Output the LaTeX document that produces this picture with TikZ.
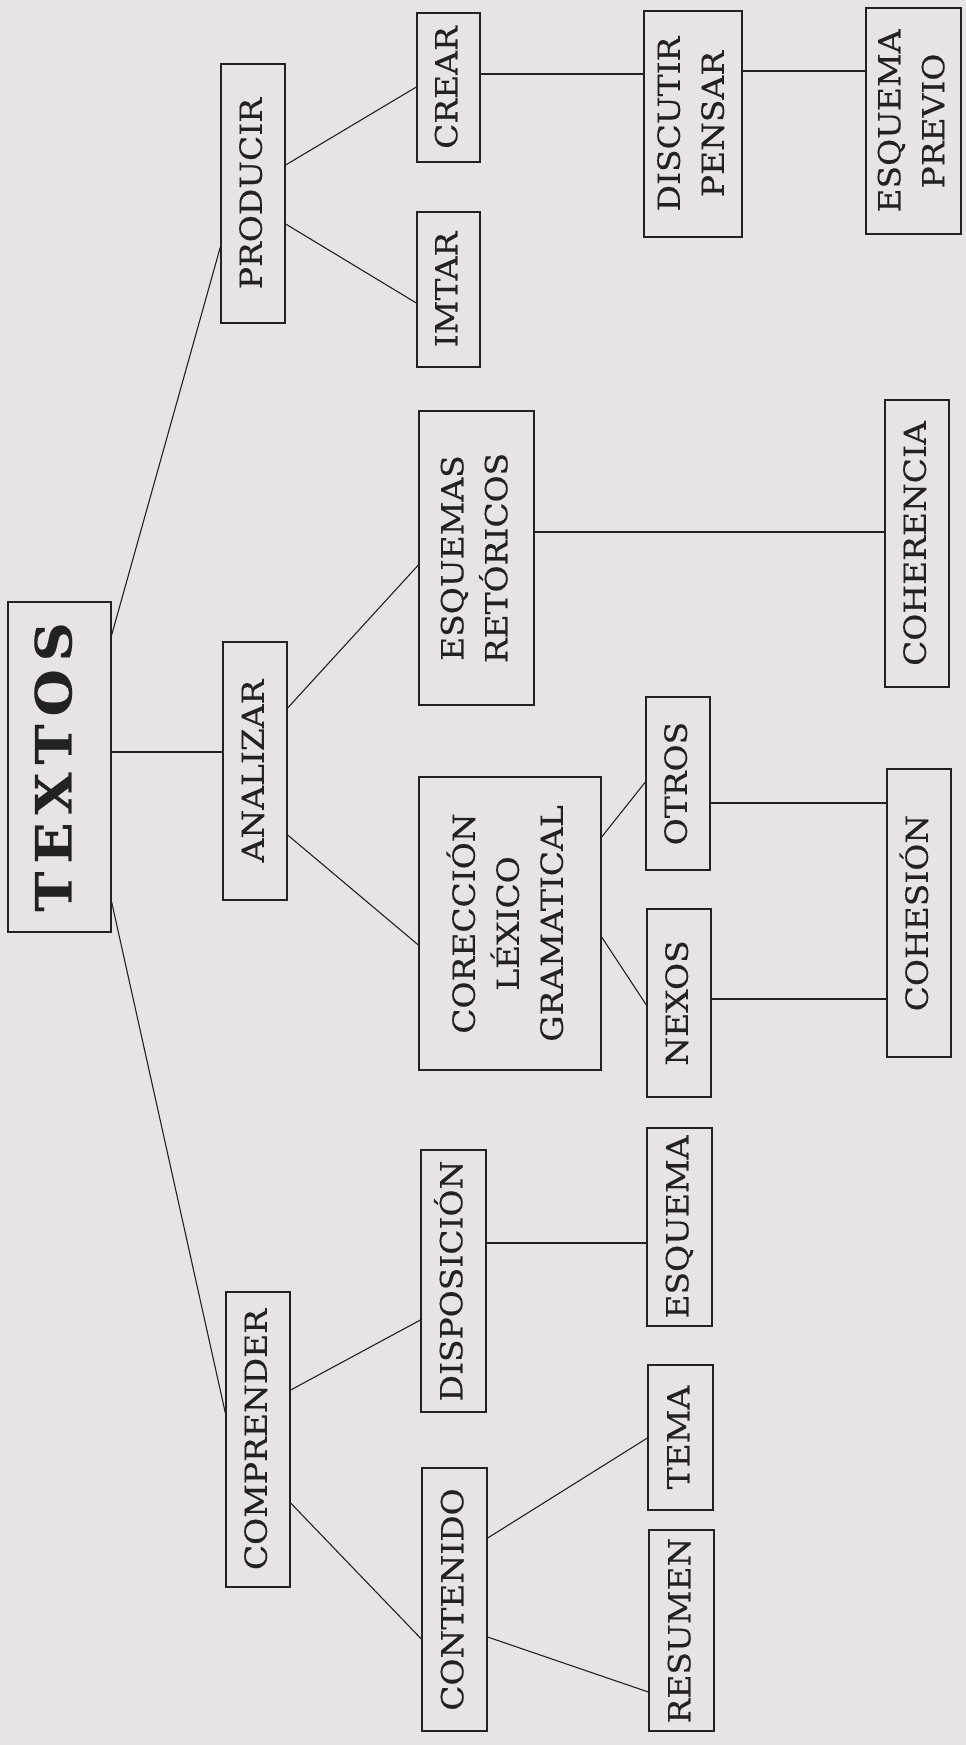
\documentclass[tikz,border=0pt]{standalone}
\usepackage{fontspec}
\setmainfont{DejaVu Serif}[FakeBold=0.4, FakeStretch=1.08]
\definecolor{paper}{HTML}{E8E4E6}
\definecolor{ink}{HTML}{222222}
\tikzset{
  box/.style={draw=ink, line width=1.3pt, text=ink, inner sep=0pt,
    font=\fontsize{30.5}{44}\selectfont},
  link/.style={draw=ink, line width=1.1pt},
}
\newcommand{\vtext}[1]{\rotatebox{90}{\begin{tabular}{@{}c@{}}#1\end{tabular}}}

\begin{document}
\begin{tikzpicture}[x=1pt, y=-1pt]
  \fill[paper] (0,0) rectangle (966,1745);
  \useasboundingbox (0,0) rectangle (966,1745);

  \node[box, minimum width=103pt, minimum height=330pt] (textos) at (59.5,767)
    {\vtext{\bfseries\fontsize{50}{54}\selectfont T\kern8pt E\kern8pt X\kern8pt T\kern8pt O\kern8pt S}};

  % producir
  \node[box, minimum width=64pt, minimum height=259pt] (prod) at (253,193.5) {\vtext{PRODUCIR}};
  \node[box, minimum width=63pt, minimum height=149pt] (crear) at (448.5,87.5) {\vtext{CREAR}};
  \node[box, minimum width=63pt, minimum height=155pt] (imtar) at (448.5,289.5) {\vtext{IMTAR}};
  \node[box, minimum width=98pt, minimum height=226pt] (discutir) at (693,124) {\vtext{DISCUTIR\\PENSAR}};
  \node[box, minimum width=95pt, minimum height=226pt] (previo) at (913.5,121) {\vtext{ESQUEMA\\PREVIO}};

  % analizar
  \node[box, minimum width=64pt, minimum height=258pt] (anal) at (255,771) {\vtext{ANALIZAR}};
  \node[box, minimum width=115pt, minimum height=294pt] (retor) at (476.5,558) {\vtext{ESQUEMAS\\RETÓRICOS}};
  \node[box, minimum width=64pt, minimum height=287pt] (coher) at (917,543.5) {\vtext{COHERENCIA}};
  \node[box, minimum width=182pt, minimum height=293pt] (correc) at (510,923.5) {\vtext{CORECCIÓN\\LÉXICO\\GRAMATICAL}};
  \node[box, minimum width=64pt, minimum height=173pt] (otros) at (678,783.5) {\vtext{OTROS}};
  \node[box, minimum width=64pt, minimum height=188pt] (nexos) at (679,1003) {\vtext{NEXOS}};
  \node[box, minimum width=64pt, minimum height=288pt] (cohes) at (919,913) {\vtext{COHESIÓN}};

  % comprender
  \node[box, minimum width=64pt, minimum height=295pt] (compr) at (258,1439.5) {\vtext{COMPRENDER}};
  \node[box, minimum width=65pt, minimum height=262pt] (dispos) at (453.5,1281) {\vtext{DISPOSICIÓN}};
  \node[box, minimum width=65pt, minimum height=198pt] (esquema) at (679.5,1227) {\vtext{ESQUEMA}};
  \node[box, minimum width=65pt, minimum height=263pt] (conten) at (454.5,1599.5) {\vtext{CONTENIDO}};
  \node[box, minimum width=65pt, minimum height=145pt] (tema) at (680.5,1437.5) {\vtext{TEMA}};
  \node[box, minimum width=65pt, minimum height=201pt] (resumen) at (681.5,1630.5) {\vtext{RESUMEN}};

  % lineas
  \draw[link] (textos.east |- 0,635) -- (prod.west |- 0,247);
  \draw[link] (textos.east |- 0,752) -- (anal.west |- 0,752);
  \draw[link] (textos.east |- 0,902) -- (compr.west |- 0,1413);
  \draw[link] (prod.east |- 0,165) -- (crear.west |- 0,87);
  \draw[link] (prod.east |- 0,224) -- (imtar.west |- 0,303);
  \draw[link] (crear.east |- 0,74) -- (discutir.west |- 0,74);
  \draw[link] (discutir.east |- 0,71) -- (previo.west |- 0,71);
  \draw[link] (anal.east |- 0,708) -- (retor.west |- 0,565);
  \draw[link] (anal.east |- 0,835) -- (correc.west |- 0,945);
  \draw[link] (retor.east |- 0,532) -- (coher.west |- 0,532);
  \draw[link] (correc.east |- 0,837) -- (otros.west |- 0,782);
  \draw[link] (correc.east |- 0,937) -- (nexos.west |- 0,1005);
  \draw[link] (otros.east |- 0,803) -- (cohes.west |- 0,803);
  \draw[link] (nexos.east |- 0,999) -- (cohes.west |- 0,999);
  \draw[link] (compr.east |- 0,1390) -- (dispos.west |- 0,1320);
  \draw[link] (compr.east |- 0,1503) -- (conten.west |- 0,1639);
  \draw[link] (dispos.east |- 0,1243) -- (esquema.west |- 0,1243);
  \draw[link] (conten.east |- 0,1538) -- (tema.west |- 0,1438);
  \draw[link] (conten.east |- 0,1637) -- (resumen.west |- 0,1692);
\end{tikzpicture}
\end{document}
